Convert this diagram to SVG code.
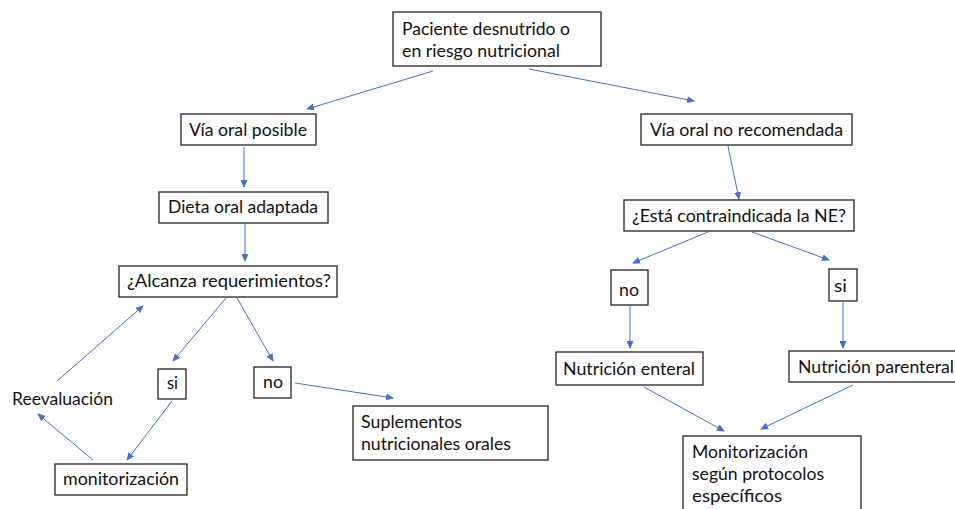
<svg xmlns="http://www.w3.org/2000/svg" width="955" height="509" viewBox="0 0 955 509">
<style>
.box{fill:#fff;stroke:#222;stroke-width:1.3}
.t{font-family:"Lato","Open Sans","Liberation Sans",sans-serif;font-size:18px;fill:#111}
.c{fill:none;stroke:#4472C4;stroke-width:1;marker-end:url(#ah)}
</style>
<defs>
<marker id="ah" markerUnits="userSpaceOnUse" markerWidth="8" markerHeight="7" refX="7" refY="3.5" orient="auto">
<path d="M0,0 L8,3.5 L0,7 Z" fill="#4472C4"/>
</marker>
</defs>
<rect width="955" height="509" fill="#fff"/>
<g id="connectors">
<line class="c" x1="433" y1="71" x2="307" y2="109"/>
<line class="c" x1="529" y1="69" x2="694" y2="101"/>
<line class="c" x1="244" y1="147" x2="244" y2="187"/>
<line class="c" x1="245" y1="224" x2="245" y2="261"/>
<line class="c" x1="226" y1="298" x2="173" y2="361"/>
<line class="c" x1="237" y1="298" x2="273" y2="361"/>
<line class="c" x1="295" y1="383" x2="393" y2="398"/>
<line class="c" x1="172" y1="401" x2="127" y2="460"/>
<line class="c" x1="93" y1="460" x2="38" y2="414"/>
<line class="c" x1="57" y1="381" x2="143" y2="306"/>
<line class="c" x1="728" y1="146" x2="739" y2="199"/>
<line class="c" x1="708" y1="232" x2="633" y2="263"/>
<line class="c" x1="752" y1="232" x2="829" y2="260"/>
<line class="c" x1="630" y1="306" x2="630" y2="348"/>
<line class="c" x1="843" y1="302" x2="843" y2="348"/>
<line class="c" x1="644" y1="387" x2="724" y2="431"/>
<line class="c" x1="853" y1="385" x2="761" y2="429"/>
</g>
<g id="n-paciente">
<rect class="box" x="393" y="12" width="208" height="54"/>
<text class="t" x="402" y="35" textLength="168" lengthAdjust="spacingAndGlyphs">Paciente desnutrido o</text>
<text class="t" x="402" y="57" textLength="158" lengthAdjust="spacingAndGlyphs">en riesgo nutricional</text>
</g>
<g id="n-via-posible">
<rect class="box" x="181" y="114" width="135" height="31"/>
<text class="t" x="189" y="136" textLength="118" lengthAdjust="spacingAndGlyphs">Vía oral posible</text>
</g>
<g id="n-dieta">
<rect class="box" x="159" y="192" width="169" height="31"/>
<text class="t" x="168" y="213" textLength="150" lengthAdjust="spacingAndGlyphs">Dieta oral adaptada</text>
</g>
<g id="n-alcanza">
<rect class="box" x="119" y="266" width="218" height="31"/>
<text class="t" x="127" y="287" textLength="204" lengthAdjust="spacingAndGlyphs">¿Alcanza requerimientos?</text>
</g>
<g id="n-si-left">
<rect class="box" x="158" y="369" width="28" height="30"/>
<text class="t" x="167" y="389" textLength="11" lengthAdjust="spacingAndGlyphs">si</text>
</g>
<g id="n-no-left">
<rect class="box" x="254" y="367" width="37" height="31"/>
<text class="t" x="263" y="388" textLength="20" lengthAdjust="spacingAndGlyphs">no</text>
</g>
<g id="n-suplementos">
<rect class="box" x="353" y="406" width="195" height="54"/>
<text class="t" x="361" y="428" textLength="101" lengthAdjust="spacingAndGlyphs">Suplementos</text>
<text class="t" x="361" y="450" textLength="150" lengthAdjust="spacingAndGlyphs">nutricionales orales</text>
</g>
<g id="n-monitorizacion">
<rect class="box" x="55" y="464" width="132" height="31"/>
<text class="t" x="63" y="485" textLength="116" lengthAdjust="spacingAndGlyphs">monitorización</text>
</g>
<g id="n-reevaluacion">
<text class="t" x="12" y="405" textLength="101" lengthAdjust="spacingAndGlyphs">Reevaluación</text>
</g>
<g id="n-via-no">
<rect class="box" x="641" y="114" width="211" height="31"/>
<text class="t" x="650" y="136" textLength="193" lengthAdjust="spacingAndGlyphs">Vía oral no recomendada</text>
</g>
<g id="n-contraindicada">
<rect class="box" x="624" y="200" width="230" height="31"/>
<text class="t" x="632" y="222" textLength="214" lengthAdjust="spacingAndGlyphs">¿Está contraindicada la NE?</text>
</g>
<g id="n-no-right">
<rect class="box" x="611" y="270" width="37" height="35"/>
<text class="t" x="619" y="296" textLength="20" lengthAdjust="spacingAndGlyphs">no</text>
</g>
<g id="n-si-right">
<rect class="box" x="829" y="269" width="28" height="32"/>
<text class="t" x="834" y="292" textLength="13" lengthAdjust="spacingAndGlyphs">si</text>
</g>
<g id="n-enteral">
<rect class="box" x="556" y="352" width="147" height="33"/>
<text class="t" x="563" y="375" textLength="132" lengthAdjust="spacingAndGlyphs">Nutrición enteral</text>
</g>
<g id="n-parenteral">
<rect class="box" x="789" y="351" width="175" height="31"/>
<text class="t" x="798" y="373" textLength="156" lengthAdjust="spacingAndGlyphs">Nutrición parenteral</text>
</g>
<g id="n-monitorizacion-protocolos">
<rect class="box" x="683" y="436" width="178" height="80"/>
<text class="t" x="692" y="458" textLength="116" lengthAdjust="spacingAndGlyphs">Monitorización</text>
<text class="t" x="692" y="480" textLength="132" lengthAdjust="spacingAndGlyphs">según protocolos</text>
<text class="t" x="692" y="502" textLength="90" lengthAdjust="spacingAndGlyphs">específicos</text>
</g>
</svg>
